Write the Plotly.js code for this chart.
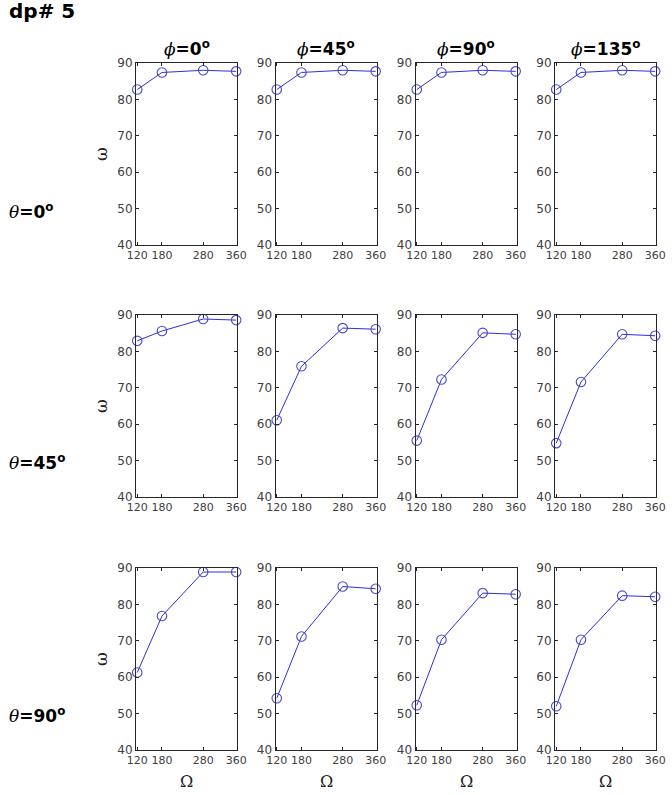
<!DOCTYPE html>
<html><head><meta charset="utf-8">
<script src="https://cdn.plot.ly/plotly-3.0.1.min.js"></script>
<style>html,body{margin:0;padding:0;background:#fff}</style>
</head><body><div id="chart" style="width:672px;height:795px"></div>
<script>
// Omega values (x axis)
const omegaVals = [120, 180, 280, 360];
const xTickLabels = ['120', '180', '280', '360'];
const yTickVals = [40, 50, 60, 70, 80, 90];
const phiLabels = ['0', '45', '90', '135'];
const thetaLabels = ['0', '45', '90'];

// omega values per (theta, phi)
const t0_p0   = [82.7, 87.4, 88.0, 87.7];
const t0_p45  = [82.7, 87.4, 88.0, 87.7];
const t0_p90  = [82.7, 87.4, 88.0, 87.7];
const t0_p135 = [82.7, 87.4, 88.0, 87.7];
const t45_p0   = [82.9, 85.6, 88.9, 88.6];
const t45_p45  = [61.1, 75.9, 86.4, 86.1];
const t45_p90  = [55.5, 72.3, 85.1, 84.7];
const t45_p135 = [54.8, 71.6, 84.7, 84.3];
const t90_p0   = [61.3, 76.8, 88.9, 88.9];
const t90_p45  = [54.2, 71.2, 84.9, 84.3];
const t90_p90  = [52.3, 70.3, 83.1, 82.8];
const t90_p135 = [52.0, 70.3, 82.4, 82.1];

const grid = [
  [t0_p0, t0_p45, t0_p90, t0_p135],
  [t45_p0, t45_p45, t45_p90, t45_p135],
  [t90_p0, t90_p45, t90_p90, t90_p135]
];

const W = 672, H = 795;
const colLeft = [136, 275.5, 415.5, 555];
const colW = 101;
const rowTop = [63, 315, 568];
const rowH = 182;

const traces = [];
const layout = {
  width: W, height: H,
  margin: {l: 0, r: 0, t: 0, b: 0},
  paper_bgcolor: '#ffffff', plot_bgcolor: '#ffffff',
  showlegend: false,
  annotations: []
};

const sans = 'DejaVu Sans, sans-serif';
const serif = 'DejaVu Serif, serif';

for (let r = 0; r < 3; r++) {
  for (let c = 0; c < 4; c++) {
    const k = r * 4 + c + 1;
    const sfx = (k === 1 ? '' : String(k));
    traces.push({
      type: 'scatter', mode: 'lines+markers',
      x: omegaVals, y: grid[r][c],
      xaxis: 'x' + sfx, yaxis: 'y' + sfx,
      line: {color: '#2f2fd6', width: 1},
      marker: {symbol: 'circle-open', size: 9.5, color: '#4a4ad0', line: {width: 1.1, color: '#4a4ad0'}},
      cliponaxis: false, hoverinfo: 'skip'
    });
    const common = {
      showline: true, linecolor: '#262626', linewidth: 1, mirror: 'ticks',
      ticks: 'inside', ticklen: 3, tickcolor: '#262626', tickwidth: 1,
      showgrid: false, zeroline: false, tickangle: 0,
      fixedrange: true
    };
    layout['xaxis' + sfx] = Object.assign({}, common, {
      domain: [colLeft[c] / W, (colLeft[c] + colW) / W],
      anchor: 'y' + sfx,
      range: [117, 362],
      tickmode: 'array', tickvals: omegaVals, ticktext: xTickLabels,
      tickfont: {family: sans, size: 11, color: '#404040'}
    });
    layout['yaxis' + sfx] = Object.assign({}, common, {
      domain: [1 - (rowTop[r] + rowH) / H, 1 - rowTop[r] / H],
      anchor: 'x' + sfx,
      range: [40, 90],
      tickmode: 'array', tickvals: yTickVals,
      tickfont: {family: sans, size: 12, color: '#404040'}
    });
  }
}

// overall label
layout.annotations.push({
  xref: 'paper', yref: 'paper', x: 7 / W, y: 1 - 11 / H,
  xanchor: 'left', yanchor: 'middle', showarrow: false,
  text: '<b>dp# 5</b>', font: {family: sans, size: 20, color: '#000'}
});

// column titles
for (let c = 0; c < 4; c++) {
  layout.annotations.push({
    xref: 'paper', yref: 'paper', x: (colLeft[c] + colW / 2) / W, y: 1 - 48 / H,
    xanchor: 'center', yanchor: 'middle', showarrow: false,
    text: '<span style="font-family:DejaVu Serif;font-style:italic;font-weight:normal">ϕ</span><b>=' + phiLabels[c] + '<sup>o</sup></b>',
    font: {family: sans, size: 17, color: '#000'}
  });
}

// row labels and y titles
const rowLabelY = [211, 462, 715];
for (let r = 0; r < 3; r++) {
  layout.annotations.push({
    xref: 'paper', yref: 'paper', x: 7 / W, y: 1 - rowLabelY[r] / H,
    xanchor: 'left', yanchor: 'middle', showarrow: false,
    text: '<span style="font-family:DejaVu Serif;font-style:italic">θ</span><b>=' + thetaLabels[r] + '<sup>o</sup></b>',
    font: {family: sans, size: 17, color: '#000'}
  });
  layout.annotations.push({
    xref: 'paper', yref: 'paper', x: 101 / W, y: 1 - (rowTop[r] + rowH / 2) / H,
    xanchor: 'center', yanchor: 'middle', showarrow: false, textangle: -90,
    text: 'ω', font: {family: serif, size: 17, color: '#202020'}
  });
}

// x titles
for (let c = 0; c < 4; c++) {
  layout.annotations.push({
    xref: 'paper', yref: 'paper', x: (colLeft[c] + colW / 2) / W, y: 1 - 781 / H,
    xanchor: 'center', yanchor: 'middle', showarrow: false,
    text: 'Ω', font: {family: serif, size: 16, color: '#202020'}
  });
}

Plotly.newPlot('chart', traces, layout, {staticPlot: true, displayModeBar: false});
</script>
</body></html>
